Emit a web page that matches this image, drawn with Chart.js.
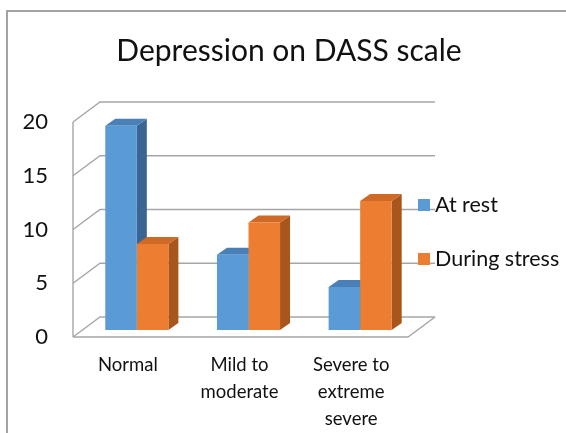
<!DOCTYPE html>
<html>
<head>
<meta charset="utf-8">
<script src="https://cdn.jsdelivr.net/npm/chart.js@4"></script>
<style>
  html, body { margin: 0; padding: 0; background: #ffffff; }
  #wrap { width: 566px; height: 433px; position: relative; }
</style>
</head>
<body>
<div id="wrap"><canvas id="dassChart" width="566" height="433"></canvas></div>
<script>
// chart data
const categories = [['Normal'], ['Mild to', 'moderate'], ['Severe to', 'extreme', 'severe']];
const atRest = [19, 7, 4];
const duringStress = [8, 10, 12];
const yTicks = [0, 5, 10, 15, 20];
const seriesNames = ['At rest', 'During stress'];

const FONT = 'Lato, "Open Sans", sans-serif';
const front = { dx: -8, dy: 7 };    // front edge of the floor relative to bar plane
const back = { dx: 19, dy: -13 };   // back wall relative to bar plane
const depth = { dx: 10, dy: -7 };   // bar extrusion
const faceColors = [
    { top: '#4a80b8', side: '#3a6590' },
    { top: '#cf6a26', side: '#a9561d' }
];

// draws walls, gridlines, bar depth faces and all text
const box3d = {
    id: 'box3d',
    beforeDatasetsDraw(chart) {
        const ctx = chart.ctx;
        const x = chart.scales.x, y = chart.scales.y;
        const L = chart.chartArea.left, R = chart.chartArea.right;
        ctx.save();
        ctx.strokeStyle = '#a6a6a6';
        ctx.lineWidth = 1.4;
        const yTop = y.getPixelForValue(yTicks[yTicks.length - 1]);
        const yZero = y.getPixelForValue(0);
        // back wall gridlines + left wall diagonals
        yTicks.forEach(v => {
            const py = y.getPixelForValue(v);
            ctx.beginPath();
            ctx.moveTo(L + front.dx, py + front.dy);
            ctx.lineTo(L + back.dx, py + back.dy);
            ctx.lineTo(R + back.dx, py + back.dy);
            ctx.stroke();
        });
        // left front edge
        ctx.beginPath();
        ctx.moveTo(L + front.dx, yTop + front.dy);
        ctx.lineTo(L + front.dx, yZero + front.dy);
        ctx.stroke();
        // floor front and right edge
        ctx.beginPath();
        ctx.moveTo(L + front.dx, yZero + front.dy);
        ctx.lineTo(R + front.dx, yZero + front.dy);
        ctx.lineTo(R + back.dx, yZero + back.dy);
        ctx.stroke();

        // bar depth faces
        chart.data.datasets.forEach((ds, di) => {
            const meta = chart.getDatasetMeta(di);
            meta.data.forEach(bar => {
                const w = bar.width;
                const x0 = bar.x - w / 2, x1 = bar.x + w / 2;
                const yt = bar.y, yb = bar.base;
                ctx.fillStyle = faceColors[di].side;
                ctx.beginPath();
                ctx.moveTo(x1, yt);
                ctx.lineTo(x1 + depth.dx, yt + depth.dy);
                ctx.lineTo(x1 + depth.dx, yb + depth.dy);
                ctx.lineTo(x1, yb);
                ctx.closePath();
                ctx.fill();
                ctx.fillStyle = faceColors[di].top;
                ctx.beginPath();
                ctx.moveTo(x0, yt);
                ctx.lineTo(x0 + depth.dx, yt + depth.dy);
                ctx.lineTo(x1 + depth.dx, yt + depth.dy);
                ctx.lineTo(x1, yt);
                ctx.closePath();
                ctx.fill();
            });
        });
        ctx.restore();
    },
    afterDraw(chart) {
        const ctx = chart.ctx;
        const x = chart.scales.x, y = chart.scales.y;
        const R = chart.chartArea.right;
        ctx.save();
        // frame
        ctx.strokeStyle = '#a3a3a3';
        ctx.lineWidth = 2;
        ctx.beginPath();
        ctx.moveTo(7, 433);
        ctx.lineTo(7, 11);
        ctx.lineTo(566, 11);
        ctx.stroke();

        ctx.fillStyle = '#111111';
        // title
        ctx.font = '30px ' + FONT;
        ctx.textAlign = 'center';
        ctx.textBaseline = 'middle';
        ctx.fillText('Depression on DASS scale', 289, 51);

        // y tick labels
        ctx.font = '22px ' + FONT;
        ctx.textAlign = 'right';
        yTicks.forEach(v => {
            ctx.fillText(String(v), 48, y.getPixelForValue(v) + front.dy);
        });

        // category labels
        ctx.font = '18.5px ' + FONT;
        ctx.textAlign = 'center';
        categories.forEach((lines, i) => {
            const cx = x.getPixelForValue(i) + front.dx - 1;
            lines.forEach((t, k) => ctx.fillText(t, cx, 365 + k * 27));
        });

        // legend
        ctx.font = '21.5px ' + FONT;
        ctx.textAlign = 'left';
        const legY = [205, 259];
        chart.data.datasets.forEach((ds, i) => {
            ctx.fillStyle = ds.backgroundColor;
            ctx.fillRect(R + 2, legY[i] - 6, 12, 12);
            ctx.fillStyle = '#111111';
            ctx.fillText(seriesNames[i], R + 19, legY[i]);
        });
        ctx.restore();
    }
};

new Chart(document.getElementById('dassChart'), {
    type: 'bar',
    data: {
        labels: categories,
        datasets: [
            { label: seriesNames[0], data: atRest, backgroundColor: '#5b9bd5' },
            { label: seriesNames[1], data: duringStress, backgroundColor: '#ed7d31' }
        ]
    },
    options: {
        responsive: false,
        animation: false,
        layout: { padding: { left: 81, right: 150, top: 115, bottom: 103 } },
        datasets: { bar: { categoryPercentage: 0.565, barPercentage: 1.0 } },
        scales: {
            x: { display: false },
            y: { display: false, min: 0, max: 20, ticks: { stepSize: 5 } }
        },
        plugins: { legend: { display: false }, tooltip: { enabled: false }, title: { display: false } }
    },
    plugins: [box3d]
});
</script>
</body>
</html>
